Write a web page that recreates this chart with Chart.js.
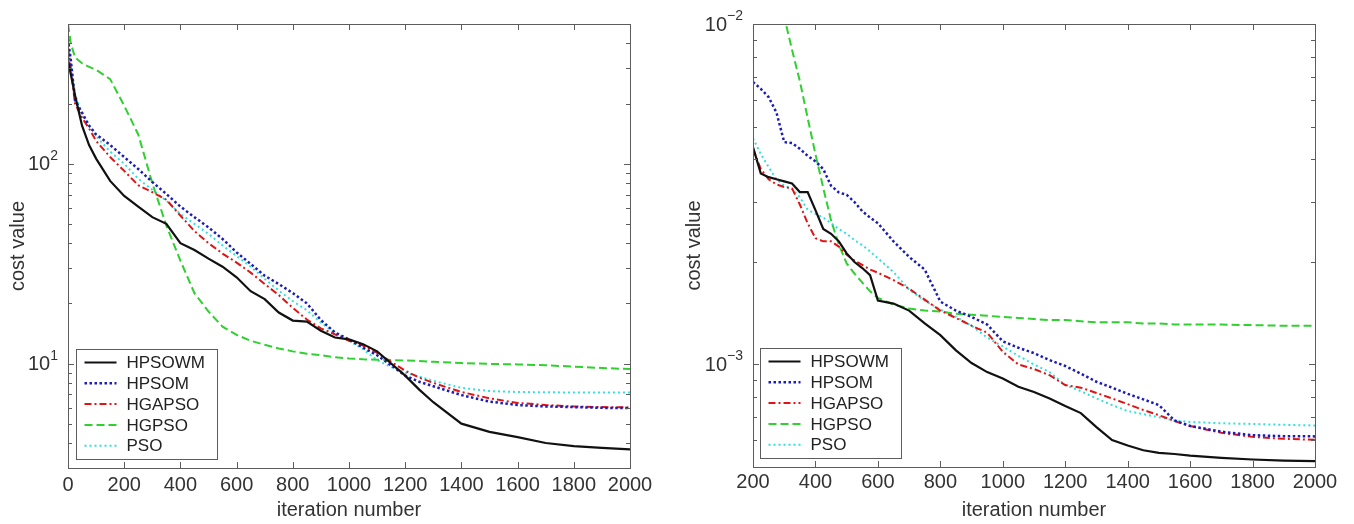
<!DOCTYPE html>
<html>
<head>
<meta charset="utf-8">
<title>cost value vs iteration number</title>
<script src="https://cdn.jsdelivr.net/npm/chart.js@4.4.0/dist/chart.umd.min.js"></script>
<style>
  body { margin: 0; background: #fff; }
  #wrap { position: relative; width: 1354px; height: 524px; }
  #chartLeft { position: absolute; left: 0; top: 0; }
  #chartRight { position: absolute; left: 677px; top: 0; }
</style>
</head>
<body>
<div id="wrap">
  <canvas id="chartLeft" width="677" height="524"></canvas>
  <canvas id="chartRight" width="677" height="524"></canvas>
</div>
<script>
// ---- left panel data (iterations 0..2000) ----
const iterLeft = [0, 10, 25, 50, 75, 100, 150, 200, 250, 300, 350, 400, 450, 500, 550, 600, 650, 700, 750, 800,
  850, 900, 950, 1000, 1050, 1100, 1150, 1200, 1250, 1300, 1400, 1500, 1600, 1700, 1800, 1900, 2000];
const hpsowmLeft = [330, 280, 220, 155, 124, 106, 82, 69, 61, 54, 50, 40, 37, 33.5, 30.5, 27, 23, 21, 18, 16.4,
  16.2, 14.6, 13.5, 13.2, 12.5, 11.5, 10, 8.7, 7.4, 6.4, 5.0, 4.55, 4.28, 4.0, 3.86, 3.78, 3.72];
const hpsomLeft = [420, 330, 207, 180, 155, 140, 124, 108, 94, 81, 70.5, 61, 54, 48, 42, 36, 31.5, 27.5, 25, 22.5,
  20, 16.5, 14.3, 13.2, 12, 11, 9.8, 8.7, 8.1, 7.7, 6.95, 6.45, 6.2, 6.1, 6.05, 6.0, 5.98];
const hgapsoLeft = [380, 300, 200, 170, 150, 130, 108, 92, 78, 72, 66, 55, 46, 40, 35.5, 32, 28.5, 25, 22, 19,
  16.6, 15, 14, 13, 12.3, 11.3, 10.2, 9.2, 8.5, 8.0, 7.2, 6.7, 6.35, 6.2, 6.1, 6.05, 6.03];
const hgpsoLeft = [500, 400, 340, 318, 305, 295, 265, 195, 140, 80, 49, 32.7, 22.5, 18.2, 15.3, 13.9, 13, 12.4, 11.9, 11.5,
  11.2, 11.0, 10.75, 10.6, 10.5, 10.45, 10.4, 10.35, 10.3, 10.2, 10.05, 9.95, 9.9, 9.8, 9.65, 9.5, 9.38];
const psoLeft = [400, 320, 223, 175, 155, 137, 115, 100, 84, 74, 65.3, 56, 50, 44.5, 39, 34.5, 30.5, 26.5, 23.2, 20.5,
  18.5, 16, 14.2, 13, 11.8, 10.4, 9.6, 9.0, 8.6, 8.2, 7.55, 7.28, 7.2, 7.18, 7.16, 7.16, 7.16];
const yTicksLeft = [3, 4, 5, 6, 7, 8, 9, 10, 20, 30, 40, 50, 60, 70, 80, 90, 100, 200, 300, 400, 500];
const decadesLeft = [10, 100];

// ---- right panel data (iterations 200..2000) ----
const iterRight = [200, 225, 250, 275, 300, 325, 350, 375, 400, 425, 450, 475, 500, 525, 550, 575, 600, 650, 700, 750,
  800, 850, 900, 950, 1000, 1050, 1100, 1150, 1200, 1250, 1300, 1350, 1400, 1450, 1500, 1550, 1600, 1700, 1800, 1900, 2000];
const hpsowmRight = [4.35e-3, 3.64e-3, 3.55e-3, 3.5e-3, 3.45e-3, 3.4e-3, 3.21e-3, 3.21e-3, 2.84e-3, 2.5e-3,
  2.42e-3, 2.3e-3, 2.12e-3, 2.0e-3, 1.92e-3, 1.83e-3, 1.54e-3, 1.51e-3, 1.44e-3, 1.32e-3,
  1.22e-3, 1.1e-3, 1.01e-3, 9.5e-4, 9.1e-4, 8.6e-4, 8.3e-4, 7.95e-4, 7.55e-4, 7.2e-4,
  6.55e-4, 6.0e-4, 5.78e-4, 5.6e-4, 5.5e-4, 5.46e-4, 5.4e-4, 5.32e-4, 5.26e-4, 5.22e-4, 5.2e-4];
const hpsomRight = [6.76e-3, 6.45e-3, 6.1e-3, 5.5e-3, 4.5e-3, 4.47e-3, 4.3e-3, 4.1e-3, 3.95e-3, 3.75e-3,
  3.35e-3, 3.2e-3, 3.15e-3, 3.0e-3, 2.82e-3, 2.7e-3, 2.6e-3, 2.3e-3, 2.07e-3, 1.9e-3,
  1.53e-3, 1.44e-3, 1.38e-3, 1.31e-3, 1.17e-3, 1.12e-3, 1.08e-3, 1.03e-3, 9.9e-4, 9.4e-4,
  8.9e-4, 8.55e-4, 8.2e-4, 7.9e-4, 7.6e-4, 6.85e-4, 6.6e-4, 6.35e-4, 6.2e-4, 6.16e-4, 6.15e-4];
const hgapsoRight = [4.3e-3, 3.75e-3, 3.5e-3, 3.38e-3, 3.32e-3, 3.29e-3, 2.95e-3, 2.6e-3, 2.35e-3, 2.3e-3,
  2.3e-3, 2.22e-3, 2.1e-3, 2.02e-3, 1.96e-3, 1.9e-3, 1.86e-3, 1.77e-3, 1.67e-3, 1.55e-3,
  1.44e-3, 1.37e-3, 1.3e-3, 1.24e-3, 1.09e-3, 1.0e-3, 9.7e-4, 9.3e-4, 8.7e-4, 8.55e-4,
  8.25e-4, 7.95e-4, 7.65e-4, 7.35e-4, 7.1e-4, 6.82e-4, 6.6e-4, 6.3e-4, 6.13e-4, 6.05e-4, 6.01e-4];
const hgpsoRight = [3.0e-2, 2.4e-2, 1.8e-2, 1.4e-2, 1.05e-2, 8.4e-3, 6.8e-3, 5.3e-3, 4.15e-3, 3.3e-3,
  2.65e-3, 2.25e-3, 1.98e-3, 1.85e-3, 1.74e-3, 1.64e-3, 1.57e-3, 1.5e-3, 1.46e-3, 1.44e-3,
  1.43e-3, 1.41e-3, 1.4e-3, 1.39e-3, 1.38e-3, 1.37e-3, 1.36e-3, 1.35e-3, 1.35e-3, 1.34e-3,
  1.33e-3, 1.33e-3, 1.33e-3, 1.32e-3, 1.32e-3, 1.31e-3, 1.31e-3, 1.31e-3, 1.305e-3, 1.3e-3, 1.3e-3];
const psoRight = [4.62e-3, 4.15e-3, 3.8e-3, 3.5e-3, 3.35e-3, 3.28e-3, 3.1e-3, 2.85e-3, 2.77e-3, 2.7e-3,
  2.6e-3, 2.5e-3, 2.42e-3, 2.32e-3, 2.24e-3, 2.15e-3, 2.05e-3, 1.87e-3, 1.66e-3, 1.54e-3,
  1.45e-3, 1.38e-3, 1.3e-3, 1.2e-3, 1.13e-3, 1.06e-3, 1.0e-3, 9.5e-4, 8.7e-4, 8.35e-4,
  7.95e-4, 7.6e-4, 7.3e-4, 7.15e-4, 7.0e-4, 6.85e-4, 6.78e-4, 6.72e-4, 6.69e-4, 6.65e-4, 6.62e-4];
const yTicksRight = [5e-4, 6e-4, 7e-4, 8e-4, 9e-4, 1e-3, 2e-3, 3e-3, 4e-3, 5e-3, 6e-3, 7e-3, 8e-3, 9e-3, 1e-2];
const decadesRight = [1e-3, 1e-2];

const seriesNames = ["HPSOWM", "HPSOM", "HGAPSO", "HGPSO", "PSO"];

// line looks, in the same order as seriesNames
const looks = [
  { color: "#111111", dash: [], width: 2.2 },
  { color: "#1c1cb8", dash: [2.5, 2.5], width: 2.5 },
  { color: "#e01414", dash: [7, 3, 2, 3], width: 2 },
  { color: "#2fd02f", dash: [8, 4], width: 2 },
  { color: "#30e0e0", dash: [2, 3], width: 2 }
];

const FONT = '"Liberation Sans", Arial, Helvetica, sans-serif';
Chart.defaults.font.family = FONT;
Chart.defaults.color = "#333";

function buildDatasets(iters, lists) {
  return lists.map((vals, i) => ({
    label: seriesNames[i],
    data: iters.map((x, k) => ({ x: x, y: vals[k] })),
    borderColor: looks[i].color,
    borderDash: looks[i].dash,
    borderWidth: looks[i].width,
    pointRadius: 0,
    tension: 0,
    fill: false
  }));
}

// matlab-like frame, inward ticks, 10^n labels and the legend box
function makeFramePlugin(decades, legendDx) {
  return {
    id: "frame",
    afterDatasetsDraw(chart) {
      const ctx = chart.ctx;
      const a = chart.chartArea;
      const xs = chart.scales.x;
      const ys = chart.scales.y;
      ctx.save();
      ctx.strokeStyle = "#5c5c5c";
      ctx.lineWidth = 1;
      ctx.setLineDash([]);
      ctx.beginPath();
      xs.ticks.forEach(t => {
        const px = Math.round(xs.getPixelForValue(t.value)) + 0.5;
        ctx.moveTo(px, a.bottom); ctx.lineTo(px, a.bottom - 6);
        ctx.moveTo(px, a.top); ctx.lineTo(px, a.top + 6);
      });
      ys.ticks.forEach(t => {
        const py = Math.round(ys.getPixelForValue(t.value)) + 0.5;
        const len = decades.includes(t.value) ? 6 : 4;
        ctx.moveTo(a.left, py); ctx.lineTo(a.left + len, py);
        ctx.moveTo(a.right, py); ctx.lineTo(a.right - len, py);
      });
      ctx.stroke();
      ctx.strokeRect(Math.round(a.left) + 0.5, Math.round(a.top) + 0.5, Math.round(a.width), Math.round(a.height));

      // decade labels 10^n
      ctx.fillStyle = "#333";
      decades.forEach(v => {
        const py = ys.getPixelForValue(v);
        const n = Math.round(Math.log10(v));
        const exp = n < 0 ? "\u2212" + (-n) : String(n);
        ctx.font = "14px " + FONT;
        const ew = ctx.measureText(exp).width;
        const xEnd = a.left - 10;
        ctx.textAlign = "left";
        ctx.textBaseline = "alphabetic";
        ctx.fillText(exp, xEnd - ew, py - 4);
        ctx.font = "20px " + FONT;
        ctx.textAlign = "right";
        ctx.textBaseline = "middle";
        ctx.fillText("10", xEnd - ew, py + 1);
      });

      // legend
      const boxW = 141, boxH = 110;
      const bx = Math.round(a.left + legendDx) + 0.5;
      const by = Math.round(a.bottom - 9 - boxH) + 0.5;
      ctx.fillStyle = "#fff";
      ctx.fillRect(bx, by, boxW, boxH);
      ctx.strokeStyle = "#5c5c5c";
      ctx.lineWidth = 1;
      ctx.strokeRect(bx, by, boxW, boxH);
      ctx.font = "17px " + FONT;
      ctx.textAlign = "left";
      ctx.textBaseline = "middle";
      chart.data.datasets.forEach((ds, i) => {
        const ry = by + 13 + i * 20.8;
        ctx.beginPath();
        ctx.strokeStyle = ds.borderColor;
        ctx.lineWidth = ds.borderWidth;
        ctx.setLineDash(ds.borderDash);
        ctx.moveTo(bx + 8, ry);
        ctx.lineTo(bx + 40, ry);
        ctx.stroke();
        ctx.setLineDash([]);
        ctx.fillStyle = "#222";
        ctx.fillText(ds.label, bx + 50, ry + 1);
      });
      ctx.restore();
    }
  };
}

function makeChart(canvasId, iters, lists, xMin, yMin, yMax, yTicks, decades, box) {
  return new Chart(document.getElementById(canvasId), {
    type: "line",
    data: { datasets: buildDatasets(iters, lists) },
    options: {
      responsive: false,
      animation: false,
      layout: { padding: { top: box.top, right: box.right, left: 0, bottom: 0 } },
      plugins: { legend: { display: false }, tooltip: { enabled: false } },
      scales: {
        x: {
          type: "linear",
          min: xMin,
          max: 2000,
          grid: { display: false, drawTicks: false },
          border: { display: false },
          ticks: {
            stepSize: 200,
            autoSkip: false,
            maxRotation: 0,
            padding: box.xLabelPad,
            color: "#333",
            font: { size: 20 },
            callback: v => String(v)
          },
          title: {
            display: true,
            text: "iteration number",
            color: "#333",
            font: { size: 20 },
            padding: { top: 0, bottom: 2 }
          },
          afterFit: s => { s.height = box.xHeight; }
        },
        y: {
          type: "logarithmic",
          min: yMin,
          max: yMax,
          grid: { display: false, drawTicks: false },
          border: { display: false },
          ticks: { display: false },
          afterBuildTicks: s => { s.ticks = yTicks.map(v => ({ value: v })); },
          title: {
            display: true,
            text: "cost value",
            color: "#333",
            font: { size: 20 },
            padding: { top: box.yTitlePad, bottom: 0 }
          },
          afterFit: s => { s.width = box.yWidth; }
        }
      }
    },
    plugins: [makeFramePlugin(decades, box.legendDx)]
  });
}

makeChart("chartLeft", iterLeft,
  [hpsowmLeft, hpsomLeft, hgapsoLeft, hgpsoLeft, psoLeft],
  0, 3, 500, yTicksLeft, decadesLeft,
  { top: 24, right: 47, yWidth: 68, xHeight: 56, xLabelPad: 5, yTitlePad: 6, legendDx: 8 });

makeChart("chartRight", iterRight,
  [hpsowmRight, hpsomRight, hgapsoRight, hgpsoRight, psoRight],
  200, 5e-4, 1e-2, yTicksRight, decadesRight,
  { top: 24, right: 39, yWidth: 76, xHeight: 57, xLabelPad: 3, yTitlePad: 5, legendDx: 7 });
</script>
</body>
</html>
